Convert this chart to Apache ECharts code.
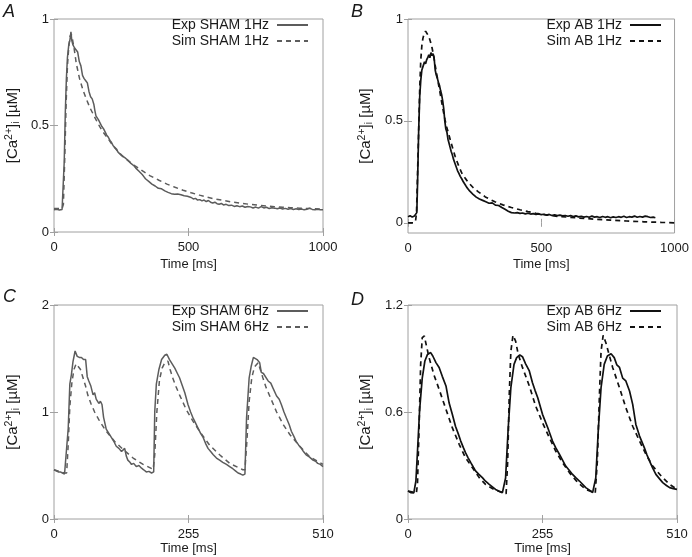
<!DOCTYPE html>
<html>
<head>
<meta charset="utf-8">
<script src="https://cdn.jsdelivr.net/npm/echarts@6/dist/echarts.min.js"></script>
<style>html,body{margin:0;padding:0;background:#fff;}#c{width:692px;height:557px;}</style>
</head>
<body>
<div id="c"></div>
<script>
// ---------- DATA ----------
const panelLetters = ['A', 'B', 'C', 'D'];
const xTicks1Hz = [0, 500, 1000];
const xTicks6Hz = [0, 255, 510];
const yTicksA = [0, 0.5, 1];
const yTicksB = [0, 0.5, 1];
const yTicksC = [0, 1, 2];
const yTicksD = [0, 0.6, 1.2];
const seriesNames = ['Exp SHAM 1Hz', 'Sim SHAM 1Hz', 'Exp AB 1Hz', 'Sim AB 1Hz', 'Exp SHAM 6Hz', 'Sim SHAM 6Hz', 'Exp AB 6Hz', 'Sim AB 6Hz'];

const expSham1Hz = [[0,0.105],[10,0.107],[20,0.103],[30,0.106],[34,0.11],[38,0.33],[42,0.56],[46,0.72],[50,0.82],[55,0.88],[59,0.9],[63,0.94],[66,0.9],[70,0.88],[76,0.865],[82,0.86],[88,0.845],[94,0.80],[100,0.78],[106,0.735],[112,0.72],[118,0.71],[124,0.70],[130,0.66],[136,0.635],[142,0.625],[148,0.60],[152,0.57],[156,0.545],[160,0.55],[166,0.525],[172,0.51],[178,0.495],[184,0.485],[190,0.47],[196,0.455],[202,0.445],[208,0.43],[214,0.42],[220,0.405],[226,0.40],[232,0.39],[238,0.375],[244,0.368],[250,0.36],[256,0.362],[262,0.35],[268,0.345],[274,0.338],[280,0.33],[286,0.322],[292,0.315],[298,0.31],[304,0.30],[310,0.295],[316,0.285],[322,0.28],[328,0.27],[334,0.26],[340,0.25],[346,0.245],[352,0.238],[358,0.232],[364,0.225],[370,0.22],[376,0.216],[382,0.212],[388,0.205],[394,0.2],[400,0.203],[406,0.195],[412,0.193],[418,0.19],[424,0.186],[430,0.188],[436,0.18],[442,0.182],[448,0.177],[454,0.176],[460,0.178],[466,0.172],[472,0.175],[478,0.168],[484,0.17],[490,0.165],[496,0.168],[502,0.16],[510,0.162],[518,0.155],[526,0.158],[534,0.15],[542,0.152],[550,0.146],[558,0.15],[566,0.143],[574,0.148],[582,0.14],[590,0.136],[598,0.14],[606,0.133],[614,0.13],[622,0.134],[630,0.127],[640,0.13],[650,0.124],[660,0.126],[670,0.12],[680,0.123],[690,0.119],[700,0.122],[710,0.116],[720,0.12],[730,0.118],[740,0.113],[750,0.117],[760,0.112],[770,0.119],[780,0.113],[790,0.116],[800,0.11],[810,0.114],[820,0.112],[830,0.109],[840,0.113],[850,0.108],[860,0.111],[870,0.107],[880,0.11],[890,0.106],[900,0.109],[910,0.105],[920,0.108],[930,0.104],[940,0.107],[950,0.112],[960,0.106],[970,0.104],[980,0.107],[990,0.105],[1000,0.104]];
const simSham1Hz = [[0,0.11],[30,0.11],[35,0.13],[40,0.35],[45,0.6],[50,0.78],[55,0.87],[60,0.92],[64,0.93],[68,0.91],[75,0.86],[83,0.79],[95,0.72],[108,0.665],[120,0.625],[133,0.585],[145,0.555],[157,0.525],[170,0.495],[182,0.47],[200,0.44],[219,0.405],[240,0.375],[260,0.35],[280,0.33],[300,0.312],[325,0.29],[356,0.265],[390,0.243],[420,0.225],[450,0.21],[480,0.196],[510,0.184],[541,0.173],[570,0.163],[603,0.154],[635,0.147],[665,0.14],[700,0.134],[727,0.13],[760,0.126],[789,0.122],[820,0.119],[851,0.116],[880,0.114],[913,0.112],[950,0.11],[1000,0.108]];

const expAb1Hz = [[0,0.03],[8,0.035],[16,0.028],[24,0.033],[30,0.03],[33,0.05],[36,0.2],[40,0.45],[44,0.62],[48,0.7],[52,0.75],[57,0.77],[62,0.79],[66,0.78],[70,0.8],[74,0.81],[78,0.825],[82,0.81],[86,0.835],[90,0.82],[94,0.83],[98,0.81],[102,0.75],[106,0.725],[110,0.71],[114,0.69],[118,0.675],[122,0.65],[126,0.63],[130,0.6],[134,0.56],[138,0.5],[142,0.46],[146,0.445],[150,0.41],[154,0.39],[158,0.37],[162,0.35],[166,0.335],[170,0.315],[174,0.3],[178,0.285],[182,0.27],[186,0.255],[190,0.245],[196,0.228],[202,0.215],[208,0.2],[214,0.188],[220,0.175],[226,0.165],[232,0.155],[238,0.147],[244,0.14],[250,0.132],[256,0.126],[262,0.12],[268,0.117],[274,0.112],[280,0.11],[286,0.105],[292,0.103],[298,0.1],[304,0.096],[310,0.093],[316,0.098],[322,0.09],[328,0.087],[334,0.092],[340,0.085],[346,0.08],[352,0.075],[358,0.07],[364,0.066],[370,0.06],[376,0.057],[382,0.053],[388,0.05],[394,0.052],[400,0.048],[410,0.05],[420,0.046],[430,0.048],[440,0.044],[450,0.047],[460,0.043],[470,0.045],[480,0.041],[490,0.044],[500,0.04],[510,0.042],[520,0.038],[530,0.041],[540,0.036],[550,0.039],[560,0.035],[570,0.038],[580,0.034],[590,0.036],[600,0.032],[610,0.035],[620,0.031],[630,0.034],[640,0.029],[650,0.032],[660,0.028],[670,0.031],[680,0.027],[690,0.033],[700,0.028],[710,0.03],[720,0.026],[730,0.031],[740,0.027],[750,0.03],[760,0.025],[770,0.029],[780,0.026],[790,0.03],[800,0.027],[810,0.032],[820,0.026],[830,0.03],[840,0.028],[850,0.033],[860,0.027],[870,0.031],[880,0.028],[890,0.033],[900,0.03],[910,0.026],[920,0.028],[928,0.025]];
const simAb1Hz = [[0,0.0],[20,0.0],[28,0.005],[32,0.05],[36,0.25],[40,0.45],[44,0.66],[48,0.8],[52,0.87],[56,0.905],[60,0.925],[66,0.94],[72,0.935],[78,0.915],[84,0.89],[90,0.86],[96,0.82],[101,0.78],[107,0.735],[113,0.69],[120,0.64],[126,0.595],[133,0.545],[139,0.505],[145,0.47],[153,0.435],[160,0.4],[168,0.365],[177,0.325],[190,0.28],[202,0.243],[215,0.218],[227,0.197],[245,0.172],[264,0.152],[290,0.127],[326,0.103],[356,0.088],[388,0.075],[420,0.064],[450,0.055],[480,0.047],[512,0.04],[560,0.032],[600,0.028],[636,0.024],[700,0.018],[760,0.013],[820,0.009],[885,0.005],[950,0.002],[1000,0.0]];

const expSham6Hz = [[0,0.46],[4,0.45],[8,0.44],[12,0.44],[16,0.43],[20,0.42],[23,0.43],[27,0.85],[30,1.26],[33,1.35],[36,1.47],[40,1.57],[44,1.52],[48,1.51],[52,1.51],[56,1.49],[60,1.49],[63,1.33],[66,1.29],[70,1.24],[74,1.16],[77,1.18],[80,1.12],[85,1.08],[88,1.1],[91,1.07],[94,0.95],[99,0.84],[104,0.8],[109,0.76],[114,0.72],[118,0.68],[123,0.66],[128,0.63],[131,0.62],[134,0.66],[137,0.59],[140,0.55],[144,0.53],[147,0.51],[151,0.52],[156,0.49],[161,0.5],[166,0.475],[170,0.46],[175,0.44],[180,0.445],[185,0.43],[189,0.44],[191,1.0],[194,1.26],[199,1.4],[204,1.49],[210,1.53],[214,1.54],[219,1.49],[224,1.45],[229,1.41],[234,1.36],[238,1.32],[243,1.25],[248,1.18],[254,1.07],[259,1.0],[264,0.94],[268,0.9],[273,0.85],[278,0.8],[283,0.76],[288,0.7],[292,0.66],[297,0.63],[302,0.6],[308,0.57],[314,0.55],[320,0.53],[327,0.51],[333,0.49],[339,0.47],[344,0.45],[349,0.43],[354,0.42],[358,0.41],[362,0.42],[365,0.94],[370,1.32],[374,1.43],[378,1.51],[381,1.5],[385,1.49],[390,1.46],[393,1.37],[397,1.36],[400,1.35],[406,1.29],[411,1.27],[415,1.225],[422,1.15],[427,1.12],[431,1.07],[436,1.0],[441,0.94],[446,0.88],[450,0.82],[455,0.77],[459,0.725],[464,0.69],[469,0.66],[473,0.63],[478,0.6],[484,0.58],[491,0.55],[496,0.54],[500,0.52],[505,0.51],[510,0.49]];
const simSham6Hz = [[0,0.46],[10,0.445],[20,0.43],[24,0.43],[27,0.7],[30,1.05],[34,1.28],[38,1.4],[42,1.45],[45,1.46],[50,1.4],[55,1.32],[60,1.24],[64,1.16],[70,1.08],[77,1.0],[87,0.91],[99,0.82],[115,0.725],[131,0.65],[150,0.57],[169,0.51],[188,0.465],[191,0.6],[195,1.0],[200,1.3],[205,1.41],[210,1.46],[216,1.475],[220,1.4],[225,1.32],[231,1.24],[238,1.16],[251,1.02],[264,0.91],[276,0.82],[295,0.69],[314,0.6],[333,0.52],[358,0.46],[362,0.46],[366,0.75],[370,1.1],[375,1.32],[380,1.42],[387,1.46],[391,1.4],[396,1.32],[402,1.23],[409,1.15],[422,1.0],[435,0.88],[447,0.79],[466,0.68],[485,0.58],[510,0.51]];

const expAb6Hz = [[0,0.157],[5,0.148],[11,0.146],[15,0.213],[18,0.38],[22,0.61],[27,0.79],[32,0.886],[37,0.923],[43,0.933],[47,0.914],[53,0.877],[59,0.85],[65,0.80],[72,0.746],[78,0.65],[84,0.587],[90,0.52],[95,0.48],[100,0.437],[105,0.4],[109,0.372],[114,0.343],[119,0.316],[124,0.29],[128,0.27],[134,0.252],[141,0.232],[147,0.212],[154,0.194],[160,0.18],[166,0.166],[172,0.157],[179,0.148],[182,0.145],[185,0.23],[190,0.51],[195,0.736],[201,0.867],[206,0.905],[212,0.92],[217,0.91],[223,0.87],[226,0.86],[230,0.83],[236,0.764],[241,0.72],[246,0.68],[255,0.587],[265,0.512],[274,0.437],[280,0.4],[287,0.363],[293,0.33],[299,0.297],[306,0.272],[312,0.25],[318,0.232],[325,0.213],[331,0.195],[337,0.176],[344,0.162],[350,0.148],[353,0.146],[356,0.23],[361,0.51],[366,0.736],[372,0.867],[378,0.914],[385,0.927],[391,0.905],[396,0.864],[401,0.85],[407,0.79],[413,0.774],[420,0.718],[426,0.643],[432,0.53],[439,0.465],[448,0.40],[453,0.36],[458,0.325],[464,0.285],[470,0.25],[477,0.225],[483,0.204],[490,0.188],[496,0.176],[503,0.17],[510,0.166]];
const simAb6Hz = [[0,0.157],[10,0.15],[16,0.148],[18,0.2],[21,0.51],[24,0.867],[27,1.017],[31,1.026],[35,0.97],[40,0.905],[49,0.81],[59,0.727],[72,0.615],[84,0.512],[97,0.419],[109,0.344],[122,0.288],[135,0.232],[147,0.194],[163,0.166],[179,0.148],[186,0.142],[189,0.325],[192,0.70],[195,0.94],[199,1.03],[204,0.998],[209,0.923],[217,0.85],[230,0.746],[242,0.634],[255,0.54],[268,0.456],[280,0.381],[293,0.316],[306,0.26],[322,0.204],[337,0.166],[355,0.146],[359,0.325],[363,0.70],[366,0.94],[370,1.03],[375,0.99],[382,0.914],[388,0.85],[401,0.736],[413,0.624],[426,0.52],[439,0.437],[451,0.363],[464,0.297],[480,0.241],[496,0.194],[510,0.166]];

// ---------- LAYOUT / STYLE ----------
const FONT = '"Liberation Sans", Arial, Helvetica, sans-serif';
const FRAME = '#a0a0a0';
const TXT = '#1a1a1a';
const GRAY_LINE = '#5c5c5c';
const BLACK_LINE = '#111111';

const panels = [
  {grid:{left:54, top:19, width:269, height:213}, xMax:1000, xTicks:xTicks1Hz, yMin:0, yMax:1, yTicks:yTicksA,
   exp:expSham1Hz, sim:simSham1Hz, names:[seriesNames[0], seriesNames[1]], color:GRAY_LINE, lw:1.5,
   legendRight:692-309, legendTop:18, letter:{left:3, top:3}, nameGap:32, xNameGap:26},
  {grid:{left:408, top:19, width:269, height:214}, xMax:1000, xTicks:xTicks1Hz, yMin:-0.05, yMax:1, yTicks:yTicksB,
   exp:expAb1Hz, sim:simAb1Hz, names:[seriesNames[2], seriesNames[3]], color:BLACK_LINE, lw:1.7,
   legendRight:692-662, legendTop:18, letter:{left:351, top:3}, nameGap:33, xNameGap:25},
  {grid:{left:54, top:305, width:269, height:214}, xMax:510, xTicks:xTicks6Hz, yMin:0, yMax:2, yTicks:yTicksC,
   exp:expSham6Hz, sim:simSham6Hz, names:[seriesNames[4], seriesNames[5]], color:GRAY_LINE, lw:1.5,
   legendRight:692-309, legendTop:304, letter:{left:3, top:288}, nameGap:32, xNameGap:23},
  {grid:{left:408, top:305, width:269, height:214}, xMax:510, xTicks:xTicks6Hz, yMin:0, yMax:1.2, yTicks:yTicksD,
   exp:expAb6Hz, sim:simAb6Hz, names:[seriesNames[6], seriesNames[7]], color:BLACK_LINE, lw:1.7,
   legendRight:692-662, legendTop:304, letter:{left:351, top:291}, nameGap:33, xNameGap:23}
];

const grids = [], xAxes = [], yAxes = [], series = [], legends = [], titles = [];
const tickStyle = {inside:true, length:4, lineStyle:{color:FRAME, width:1}};

panels.forEach((p, i) => {
  grids.push(Object.assign({show:true, borderColor:FRAME, borderWidth:1, containLabel:false}, p.grid));
  const xInterval = p.xTicks[1] - p.xTicks[0];
  xAxes.push({type:'value', gridIndex:i, position:'bottom', min:p.xTicks[0], max:p.xMax, interval:xInterval,
    axisLine:{show:false}, axisTick:tickStyle, splitLine:{show:false},
    axisLabel:{fontSize:13, color:TXT, fontFamily:FONT, margin:9, formatter:(v) => String(v)},
    name:'Time [ms]', nameLocation:'middle', nameGap:p.xNameGap,
    nameTextStyle:{fontSize:13, color:TXT, fontFamily:FONT}});
  xAxes.push({type:'value', gridIndex:i, position:'top', min:p.xTicks[0], max:p.xMax, interval:xInterval,
    axisLine:{show:false}, axisTick:tickStyle, splitLine:{show:false}, axisLabel:{show:false}});
  const yCommon = {type:'value', gridIndex:i, min:p.yMin, max:p.yMax, splitLine:{show:false}, axisLine:{show:false}};
  const yTickCfg = Object.assign({}, tickStyle, {customValues:p.yTicks});
  yAxes.push(Object.assign({}, yCommon, {position:'left',
    axisTick:yTickCfg,
    axisLabel:{fontSize:13, color:TXT, fontFamily:FONT, margin:5, customValues:p.yTicks, formatter:(v) => String(v)},
    name:'[Ca{sup|2+}]{sub|i} [µM]', nameLocation:'middle', nameGap:p.nameGap,
    nameTextStyle:{fontSize:15, color:TXT, fontFamily:FONT, lineHeight:18,
      rich:{sup:{fontSize:10.5, color:TXT, fontFamily:FONT, verticalAlign:'top'},
            sub:{fontSize:10.5, color:TXT, fontFamily:FONT, verticalAlign:'bottom'}}}}));
  yAxes.push(Object.assign({}, yCommon, {position:'right', axisTick:yTickCfg, axisLabel:{show:false}}));

  series.push({type:'line', name:p.names[0], xAxisIndex:2*i, yAxisIndex:2*i, data:p.exp,
    showSymbol:false, symbol:'none', animation:false, color:p.color,
    lineStyle:{color:p.color, width:p.lw, type:'solid'}});
  series.push({type:'line', name:p.names[1], xAxisIndex:2*i, yAxisIndex:2*i, data:p.sim,
    showSymbol:false, symbol:'none', animation:false, color:p.color,
    lineStyle:{color:p.color, width:p.lw, type:[5,4]}});

  legends.push({data:p.names, orient:'vertical', align:'right', right:p.legendRight, top:p.legendTop,
    itemWidth:31, itemHeight:12, itemGap:2, selectedMode:false, padding:0,
    itemStyle:{opacity:0},
    textStyle:{fontSize:14, color:TXT, fontFamily:FONT, padding:[0,3,0,0]}});

  titles.push({text:panelLetters[i], left:p.letter.left, top:p.letter.top, padding:0,
    textStyle:{fontSize:18, fontStyle:'italic', fontWeight:'normal', color:TXT, fontFamily:FONT}});
});

const chart = echarts.init(document.getElementById('c'), null, {renderer:'canvas'});
chart.setOption({
  animation:false,
  backgroundColor:'#ffffff',
  title:titles,
  grid:grids, xAxis:xAxes, yAxis:yAxes, legend:legends, series:series
});
</script>
</body>
</html>
